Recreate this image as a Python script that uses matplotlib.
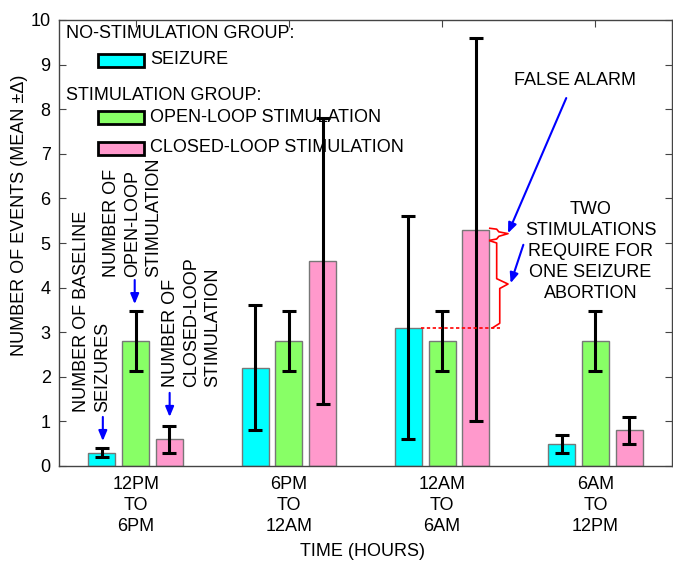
import matplotlib
matplotlib.use("Agg")
import matplotlib.pyplot as plt
from matplotlib.patches import Rectangle
import numpy as np

plt.rcParams['font.family'] = ['Liberation Sans', 'DejaVu Sans']

periods = ["12PM\nTO\n6PM", "6PM\nTO\n12AM", "12AM\nTO\n6AM", "6AM\nTO\n12PM"]
seizure = [0.3, 2.2, 3.1, 0.5]
seizure_err = [0.1, 1.4, 2.5, 0.2]
open_loop = [2.8, 2.8, 2.8, 2.8]
open_loop_err = [0.68, 0.68, 0.68, 0.68]
closed_loop = [0.6, 4.6, 5.3, 0.8]
closed_loop_err = [0.3, 3.2, 4.3, 0.3]

series_names = ["SEIZURE", "OPEN-LOOP STIMULATION", "CLOSED-LOOP STIMULATION"]
colors = ["#00ffff", "#88ff66", "#ff99cc"]

W, H = 673, 561
fig = plt.figure(figsize=(W/100, H/100), dpi=100)
ax = fig.add_axes([59/W, 1-466/H, (672-59)/W, (466-20)/H])

x = np.arange(1, len(periods) + 1)
w = 0.176
off = 0.22
FS = 13
LS = 1.3
for vals, errs, c, o in zip([seizure, open_loop, closed_loop],
                            [seizure_err, open_loop_err, closed_loop_err],
                            colors, [-off, 0, off]):
    ax.bar(x + o, vals, width=w, color=c, edgecolor="#777777", linewidth=1, zorder=2)
    ax.errorbar(x + o, vals, yerr=errs, fmt="none", ecolor="black",
                elinewidth=2.2, capsize=5, capthick=2.2, zorder=3)

ax.set_xlim(0.5, 4.5)
ax.set_ylim(0, 10)
ax.set_xticks(x)
ax.set_xticklabels(periods, fontsize=FS, linespacing=1.32)
ax.set_yticks(range(0, 11))
ax.tick_params(direction="in", top=True, right=True, length=5, width=0.8,
               colors="#444444", labelcolor="black", labelsize=FS)
ax.tick_params(axis="x", pad=7)
ax.tick_params(axis="y", pad=6)
for s in ax.spines.values():
    s.set_color("#444444")
    s.set_linewidth(1.0)

fig.text(20/W, 1-215/H, "NUMBER OF EVENTS (MEAN \u00b1\u0394)", rotation=90,
         ha="center", va="center", fontsize=FS)
fig.text(363/W, 1-552/H, "TIME (HOURS)", ha="center", va="center", fontsize=FS)

# Legend as text + patches (axes coords)
def px2ax(px, py):
    return ((px - 59) / (672 - 59), (466 - py) / (466 - 20))

tx, ty = px2ax(66, 34)
ax.text(tx, ty, "NO-STIMULATION GROUP:", transform=ax.transAxes, fontsize=FS, va="center", ha="left")
tx, ty = px2ax(66, 96)
ax.text(tx, ty, "STIMULATION GROUP:", transform=ax.transAxes, fontsize=FS, va="center", ha="left")
for name, c, py in zip(series_names, colors, [60, 117, 148]):
    x0, y0 = px2ax(98, py + 7)
    x1, y1 = px2ax(144, py - 6)
    ax.add_patch(Rectangle((x0, y0), x1 - x0, y1 - y0, transform=ax.transAxes,
                           facecolor=c, edgecolor="black", linewidth=2, zorder=5))
    lx, ly = px2ax(150, py)
    ax.text(lx, ly, name, transform=ax.transAxes, fontsize=FS, va="center", ha="left")

blue = "#0000ff"
def arrow(x0, y0, x1, y1):
    ax.annotate("", xy=(x1, y1), xytext=(x0, y0),
                arrowprops=dict(arrowstyle="-|>,head_length=0.6,head_width=0.25",
                                color=blue, lw=1.5, shrinkA=0, shrinkB=0), zorder=6)

# Rotated annotations
ax.text(0.718, 1.21, "NUMBER OF BASELINE\nSEIZURES", rotation=90, ha="center", va="bottom",
        fontsize=FS, multialignment="left", linespacing=LS)
arrow(0.786, 1.10, 0.786, 0.56)
ax.text(0.981, 4.24, "NUMBER OF\nOPEN-LOOP\nSTIMULATION", rotation=90, ha="center", va="bottom",
        fontsize=FS, multialignment="left", linespacing=LS)
arrow(0.994, 4.17, 0.994, 3.63)
ax.text(1.365, 1.77, "NUMBER OF\nCLOSED-LOOP\nSTIMULATION", rotation=90, ha="center", va="bottom",
        fontsize=FS, multialignment="left", linespacing=LS)
arrow(1.222, 1.64, 1.222, 1.10)

# False alarm
ax.text(3.87, 8.65, "FALSE ALARM", ha="center", va="center", fontsize=FS)
arrow(3.81, 8.25, 3.43, 5.22)
ax.text(3.968, 4.81, "TWO\nSTIMULATIONS\nREQUIRE FOR\nONE SEIZURE\nABORTION", ha="center", va="center",
        fontsize=FS, multialignment="center", linespacing=1.3)
arrow(3.53, 4.96, 3.447, 4.10)

# Red braces
red = "#ff0000"
bx = [3.311, 3.356, 3.37, 3.43, 3.37, 3.356, 3.311]
by = [5.33, 5.31, 5.25, 5.21, 5.15, 5.09, 5.06]
ax.plot(bx, by, color=red, lw=1.2, zorder=4, clip_on=False)
bx2 = [3.311, 3.356, 3.356, 3.43, 3.376, 3.376, 3.33]
by2 = [5.05, 5.00, 4.20, 4.08, 3.98, 3.20, 3.10]
ax.plot(bx2, by2, color=red, lw=1.2, zorder=4)
ax.plot([2.862, 3.376], [3.1, 3.1], color=red, lw=1.2, ls=(0, (2, 1.5)), zorder=4)

fig.savefig("out.png", dpi=100)
